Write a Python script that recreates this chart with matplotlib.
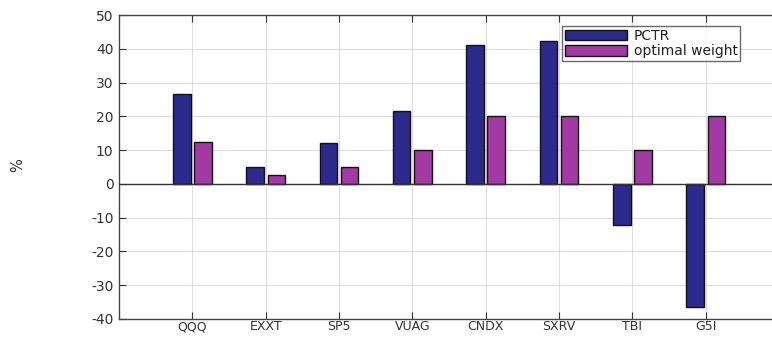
import matplotlib
matplotlib.use("Agg")
import matplotlib.pyplot as plt
import numpy as np

plt.rcParams['font.family'] = ['DejaVu Sans']
plt.rcParams['axes.unicode_minus'] = False

tickers = ["QQQ", "EXXT", "SP5", "VUAG", "CNDX", "SXRV", "TBI", "G5I"]
pctr = [26.5, 5.0, 12.2, 21.5, 41.0, 42.3, -12.2, -36.3]
optimal_weight = [12.5, 2.6, 5.0, 10.0, 20.0, 20.0, 10.0, 20.0]
series_names = ["PCTR", "optimal weight"]
yticks = [-40, -30, -20, -10, 0, 10, 20, 30, 40, 50]

W, H = 772, 337
fig = plt.figure(figsize=(W / 100, H / 100), dpi=100)
left, right, top, bottom = 119, 779, 15, 319
ax = fig.add_axes([left / W, 1 - bottom / H, (right - left) / W, (bottom - top) / H])

x = np.arange(1, len(tickers) + 1)
bw = 0.24
off = 0.145
c1, c2 = "#2c2a8c", "#a33aa3"
ax.bar(x - off, pctr, bw, color=c1, edgecolor="#111111", linewidth=1.0, label=series_names[0], zorder=3)
ax.bar(x + off, optimal_weight, bw, color=c2, edgecolor="#111111", linewidth=1.0, label=series_names[1], zorder=3)
ax.axhline(0, color="#333333", linewidth=1.0, zorder=4)

ax.set_xlim(0, 9)
ax.set_ylim(-40, 50)
ax.set_xticks(x)
ax.set_xticklabels(tickers)
ax.set_yticks(yticks)
ax.grid(True, color="#dddddd", linewidth=0.8, zorder=0)
ax.set_axisbelow(True)
ax.tick_params(direction="in", length=5, width=0.8, color="#333333",
               labelcolor="#333333", top=True, right=True)
ax.tick_params(axis="y", labelsize=10, pad=4)
ax.tick_params(axis="x", labelsize=9, pad=1)
for s in ax.spines.values():
    s.set_color("#444444")
    s.set_linewidth(1.0)

fig.text(18 / W, 1 - 165 / H, "%", rotation=90, ha="center", va="center",
         fontsize=10.5, color="#333333")

leg = ax.legend(loc="upper left", bbox_to_anchor=(562 / W, 1 - 26 / H),
                bbox_transform=fig.transFigure, fancybox=False, frameon=True,
                fontsize=10, handlelength=4.5, handleheight=0.8, handletextpad=0.45,
                borderpad=0.2, labelspacing=0.1, borderaxespad=0)
leg.get_frame().set_edgecolor("#444444")
leg.get_frame().set_linewidth(1.0)
for t in leg.get_texts():
    t.set_color("#222222")

fig.savefig("out.png", dpi=100)
